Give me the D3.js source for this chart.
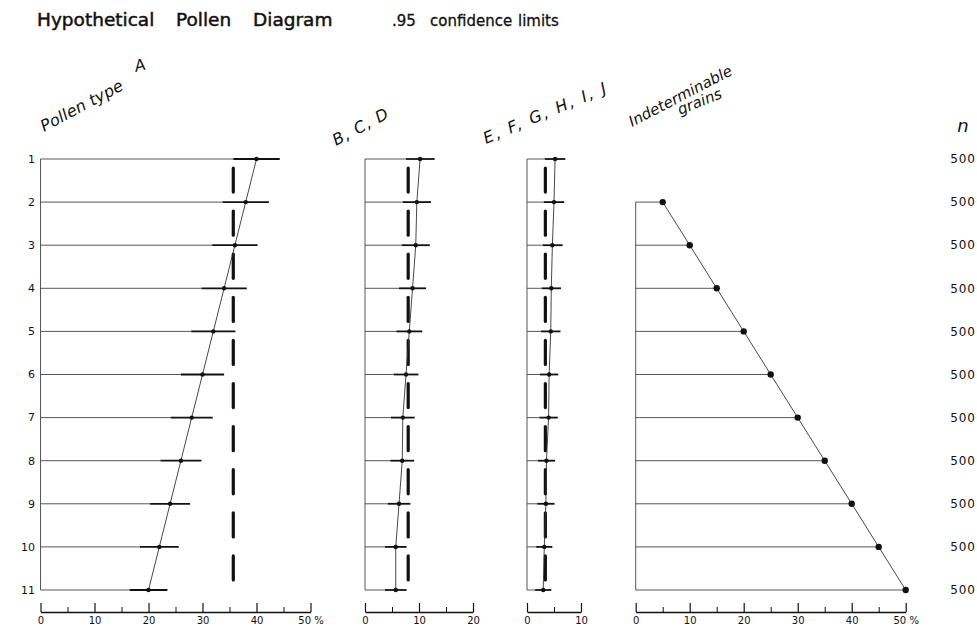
<!DOCTYPE html>
<html>
<head>
<meta charset="utf-8">
<script src="https://cdn.jsdelivr.net/npm/d3@7"></script>
<style>
  body { margin: 0; background: #fff; }
  text { font-family: "DejaVu Sans", sans-serif; fill: #111; }
</style>
</head>
<body>
<div id="graph1"></div>
<script>
var width = 977,
    height = 628

// levels 1..11, top to bottom
var levels = ["1", "2", "3", "4", "5", "6", "7", "8", "9", "10", "11"]
var counts = [500, 500, 500, 500, 500, 500, 500, 500, 500, 500, 500]

// pollen type A (%), with .95 confidence limits
var typeA = [40, 38, 36, 34, 32, 30, 28, 26, 24, 22, 20]
var typeALow = [35.7, 33.7, 31.8, 29.8, 27.9, 26.0, 24.1, 22.2, 20.3, 18.4, 16.5]
var typeAHigh = [44.3, 42.3, 40.2, 38.2, 36.1, 34.0, 31.9, 29.8, 27.7, 25.6, 23.5]

// B, C, D
var typeB = [10.2, 9.6, 9.4, 8.8, 8.2, 7.6, 7.0, 6.9, 6.3, 5.7, 5.7]
var typeBLow = [7.6, 7.0, 6.8, 6.3, 5.8, 5.3, 4.8, 4.7, 4.2, 3.7, 3.7]
var typeBHigh = [12.9, 12.2, 12.0, 11.3, 10.6, 9.9, 9.2, 9.1, 8.4, 7.7, 7.7]

// E, F, G, H, I, J
var typeC = [5.2, 5.0, 4.7, 4.5, 4.4, 4.1, 4.0, 3.6, 3.5, 3.2, 3.0]
var typeCLow = [3.3, 3.1, 2.9, 2.7, 2.6, 2.4, 2.3, 2.0, 1.9, 1.7, 1.5]
var typeCHigh = [7.1, 6.9, 6.6, 6.3, 6.2, 5.8, 5.7, 5.2, 5.1, 4.7, 4.5]

// indeterminable grains (none counted at level 1)
var indet = [null, 5, 10, 15, 20, 25, 30, 35, 40, 45, 50]

// heavy dashed reference lines
var refA = 35.7, refB = 8, refC = 3.4

var svg = d3.select("#graph1")
  .append("svg")
    .attr("width", width)
    .attr("height", height)

var y = d3.scalePoint().domain(levels).range([159, 590])
var pxPer = 5.4
var baseY = 612

// title
var title = svg.append("g").attr("font-size", 18.5).attr("stroke", "#111").attr("stroke-width", 0.5)
title.append("text").attr("x", 37).attr("y", 26).text("Hypothetical")
title.append("text").attr("x", 176).attr("y", 26).text("Pollen")
title.append("text").attr("x", 253).attr("y", 26).text("Diagram")
var sub = svg.append("g").attr("font-size", 15).attr("stroke", "#111").attr("stroke-width", 0.3)
sub.append("text").attr("x", 392).attr("y", 26).text(".95")
sub.append("text").attr("x", 430).attr("y", 26).text("confidence")
sub.append("text").attr("x", 518).attr("y", 26).text("limits")

// slanted column heads
function head(x, yy, angle, str, size, spacing) {
  svg.append("text")
    .attr("transform", "translate(" + x + "," + yy + ") rotate(" + angle + ")")
    .attr("font-size", size)
    .attr("font-style", "italic")
    .attr("letter-spacing", spacing || 0)
    .text(str)
}
head(44, 132, -28, "Pollen  type", 16, 0.2)
head(136, 72, -15, "A", 16)
head(336, 146, -28, "B, C, D", 16, 1)
head(486, 144, -23, "E, F, G, H, I, J", 16, 2)
head(632, 127, -27.5, "Indeterminable", 15)
head(680, 115, -22, "grains", 15)

// level numbers and counts
svg.append("g").selectAll("text")
  .data(levels).join("text")
    .attr("x", 35).attr("y", d => y(d))
    .attr("dy", "0.35em")
    .attr("text-anchor", "end")
    .attr("font-size", 11)
    .attr("fill", "#333")
    .text(d => d)

svg.append("text")
  .attr("x", 963).attr("y", 132)
  .attr("text-anchor", "middle")
  .attr("font-size", 18).attr("font-style", "italic")
  .text("n")

svg.append("g").selectAll("text")
  .data(counts).join("text")
    .attr("x", 963).attr("y", (d, i) => y(levels[i]))
    .attr("dy", "0.35em")
    .attr("text-anchor", "middle")
    .attr("font-size", 12)
    .attr("letter-spacing", 0.8)
    .attr("fill", "#333")
    .text(d => d)

function panel(x0, max, vals, low, high, ref, dotR) {
  var x = d3.scaleLinear().domain([0, max]).range([x0, x0 + max * pxPer])
  var g = svg.append("g")
  var pts = vals.map((v, i) => ({ v: v, lev: levels[i], lo: low ? low[i] : v, hi: high ? high[i] : v }))
    .filter(d => d.v != null)

  // axis
  var major = d3.range(0, max + 1, 10)
  var minor = d3.range(5, max, 10)
  var ax = g.append("g").attr("transform", "translate(0," + baseY + ")")
    .call(d3.axisBottom(x).tickValues(major).tickSizeInner(-9).tickSizeOuter(0).tickPadding(5)
      .tickFormat(d => (d === 50 ? "50 %" : d)))
  ax.select(".domain").attr("stroke", "#111").attr("stroke-width", 1.3)
  ax.selectAll(".tick line").attr("stroke", "#111").attr("stroke-width", 1.2)
  ax.selectAll("text").attr("font-size", 10).attr("fill", "#222").attr("font-family", "DejaVu Sans")
  var ax2 = g.append("g").attr("transform", "translate(0," + baseY + ")")
    .call(d3.axisBottom(x).tickValues(minor).tickSizeInner(-5).tickSizeOuter(0).tickFormat(""))
  ax2.select(".domain").remove()
  ax2.selectAll(".tick line").attr("stroke", "#111").attr("stroke-width", 1)

  // vertical base line
  g.append("line")
    .attr("x1", x(0)).attr("x2", x(0))
    .attr("y1", y(pts[0].lev)).attr("y2", y(pts[pts.length - 1].lev))
    .attr("stroke", "#444").attr("stroke-width", 0.9)

  // thin line from zero to lower limit
  g.selectAll(".stem").data(pts).join("line")
    .attr("x1", x(0)).attr("x2", d => x(d.lo))
    .attr("y1", d => y(d.lev)).attr("y2", d => y(d.lev))
    .attr("stroke", "#444").attr("stroke-width", 0.9)

  // confidence limits
  if (low) {
    g.selectAll(".ci").data(pts).join("line")
      .attr("x1", d => x(d.lo)).attr("x2", d => x(d.hi))
      .attr("y1", d => y(d.lev)).attr("y2", d => y(d.lev))
      .attr("stroke", "#111").attr("stroke-width", 1.8)
  }

  // heavy dashed reference line
  if (ref != null) {
    g.selectAll(".ref").data(levels.slice(0, -1)).join("line")
      .attr("x1", x(ref)).attr("x2", x(ref))
      .attr("y1", d => y(d) + 9).attr("y2", d => y(d) + y.step() - 10)
      .attr("stroke", "#111").attr("stroke-width", 3.2).attr("stroke-linecap", "round")
  }

  // connecting line
  g.append("path")
    .datum(pts)
    .attr("fill", "none").attr("stroke", "#333").attr("stroke-width", 0.9)
    .attr("d", d3.line().x(d => x(d.v)).y(d => y(d.lev)))

  g.selectAll("circle").data(pts).join("circle")
    .attr("cx", d => x(d.v)).attr("cy", d => y(d.lev))
    .attr("r", dotR).attr("fill", "#111")
}

panel(40.5, 50, typeA, typeALow, typeAHigh, refA, 2.2)
panel(365, 20, typeB, typeBLow, typeBHigh, refB, 2.2)
panel(527, 10, typeC, typeCLow, typeCHigh, refC, 2.2)
panel(635.7, 50, indet, null, null, null, 3.2)
</script>
</body>
</html>
